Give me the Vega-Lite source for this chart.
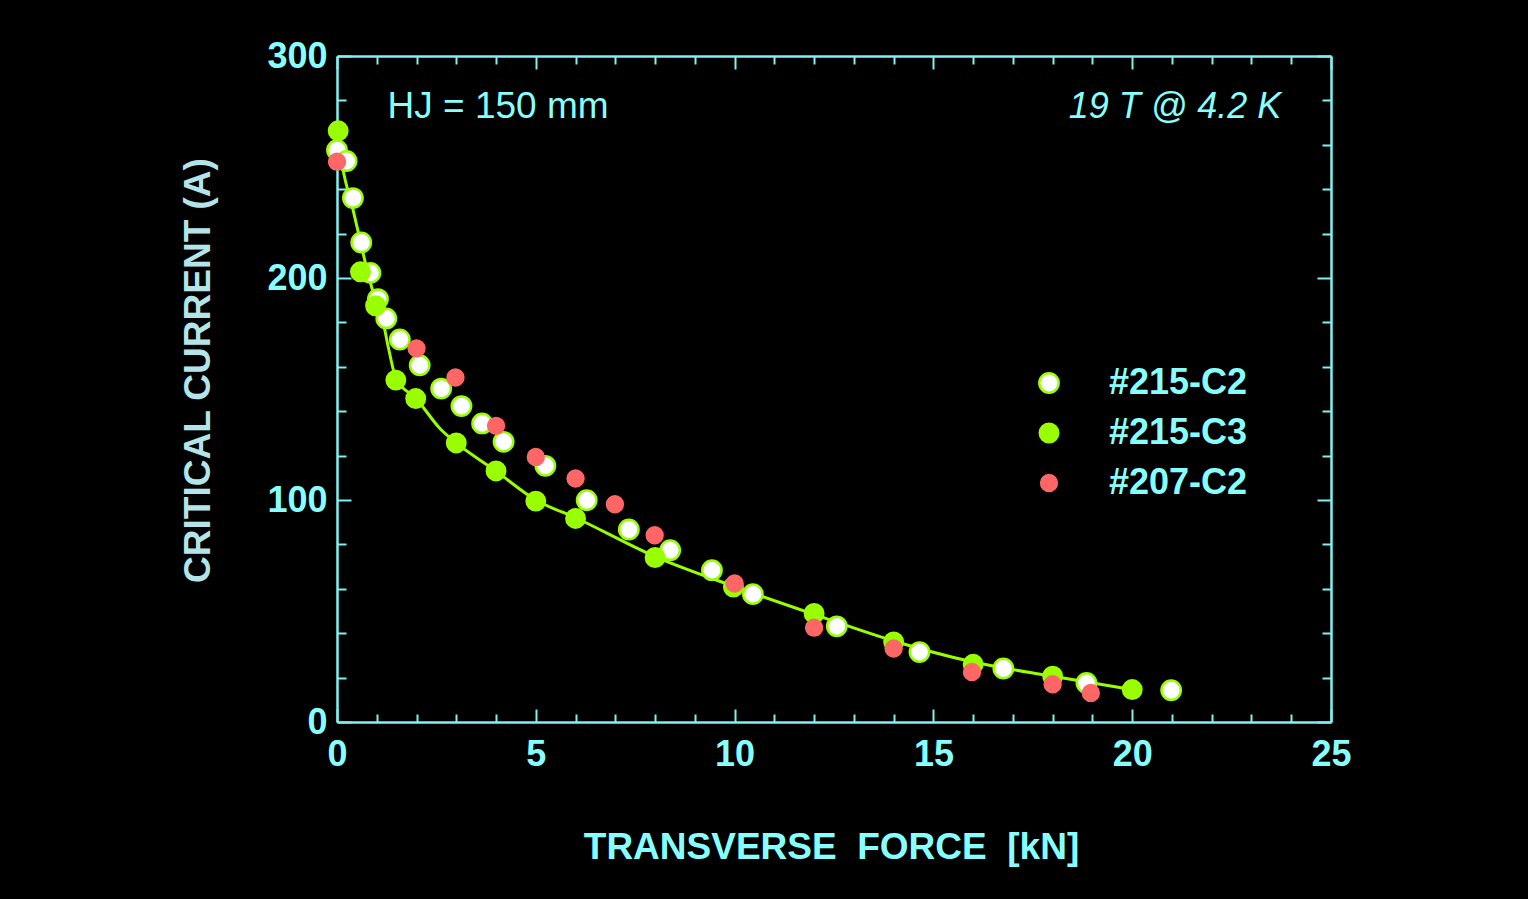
{
  "$schema": "https://vega.github.io/schema/vega-lite/v6.json",
  "width": 994,
  "height": 666,
  "autosize": "none",
  "padding": {"left": 337, "top": 56, "right": 197, "bottom": 177},
  "background": "#000000",
  "config": {"view": {"stroke": null}, "font": "Liberation Sans"},
  "datasets": {
    "curve": [
      {"f": 0, "ic": 266}, {"f": 0.15, "ic": 249}, {"f": 0.4, "ic": 231}, {"f": 0.62, "ic": 214},
      {"f": 0.78, "ic": 202}, {"f": 0.97, "ic": 190}, {"f": 1.15, "ic": 181}, {"f": 1.3, "ic": 168},
      {"f": 1.48, "ic": 155}, {"f": 2.0, "ic": 145.5}, {"f": 2.6, "ic": 132}, {"f": 3.0, "ic": 125.7},
      {"f": 4, "ic": 113}, {"f": 5, "ic": 100}, {"f": 6, "ic": 92}, {"f": 8, "ic": 74.5},
      {"f": 10, "ic": 61}, {"f": 12, "ic": 48.5}, {"f": 14, "ic": 36.5}, {"f": 16, "ic": 27},
      {"f": 18, "ic": 20.6}, {"f": 20, "ic": 14.6}
    ],
    "points": [
      {"series": "#215-C2", "f": 0.0, "ic": 257.6},
      {"series": "#215-C2", "f": 0.24, "ic": 252.7},
      {"series": "#215-C2", "f": 0.4, "ic": 236},
      {"series": "#215-C2", "f": 0.61, "ic": 216},
      {"series": "#215-C2", "f": 0.84, "ic": 202.3},
      {"series": "#215-C2", "f": 1.03, "ic": 190.5},
      {"series": "#215-C2", "f": 1.24, "ic": 181.8},
      {"series": "#215-C2", "f": 1.58, "ic": 172.3},
      {"series": "#215-C2", "f": 2.08, "ic": 160.7},
      {"series": "#215-C2", "f": 2.62, "ic": 150.2},
      {"series": "#215-C2", "f": 3.13, "ic": 142.3},
      {"series": "#215-C2", "f": 3.65, "ic": 134.5},
      {"series": "#215-C2", "f": 4.19, "ic": 126.2},
      {"series": "#215-C2", "f": 5.24, "ic": 115.4},
      {"series": "#215-C2", "f": 6.28, "ic": 99.9},
      {"series": "#215-C2", "f": 7.34, "ic": 86.7},
      {"series": "#215-C2", "f": 8.38, "ic": 77.4},
      {"series": "#215-C2", "f": 9.43, "ic": 68.4},
      {"series": "#215-C2", "f": 10.46, "ic": 57.6},
      {"series": "#215-C2", "f": 12.57, "ic": 43.1},
      {"series": "#215-C2", "f": 14.65, "ic": 31.5},
      {"series": "#215-C2", "f": 16.76, "ic": 24.1},
      {"series": "#215-C2", "f": 18.85, "ic": 17.6},
      {"series": "#215-C2", "f": 20.98, "ic": 14.3},
      {"series": "#215-C3", "f": 0.03, "ic": 266.3},
      {"series": "#215-C3", "f": 0.59, "ic": 202.8},
      {"series": "#215-C3", "f": 0.97, "ic": 187.5},
      {"series": "#215-C3", "f": 1.48, "ic": 154},
      {"series": "#215-C3", "f": 1.98, "ic": 145.7},
      {"series": "#215-C3", "f": 3.0, "ic": 125.7},
      {"series": "#215-C3", "f": 4.0, "ic": 113.1},
      {"series": "#215-C3", "f": 5.0, "ic": 99.5},
      {"series": "#215-C3", "f": 6.0, "ic": 91.7},
      {"series": "#215-C3", "f": 8.0, "ic": 74.1},
      {"series": "#215-C3", "f": 9.97, "ic": 60.8},
      {"series": "#215-C3", "f": 12.0, "ic": 48.9},
      {"series": "#215-C3", "f": 14.0, "ic": 36.1},
      {"series": "#215-C3", "f": 16.0, "ic": 26},
      {"series": "#215-C3", "f": 18.0, "ic": 20.6},
      {"series": "#215-C3", "f": 20.0, "ic": 14.6},
      {"series": "#207-C2", "f": 0.0, "ic": 252.4},
      {"series": "#207-C2", "f": 2.0, "ic": 168.3},
      {"series": "#207-C2", "f": 2.98, "ic": 155.2},
      {"series": "#207-C2", "f": 4.0, "ic": 133.4},
      {"series": "#207-C2", "f": 5.0, "ic": 119.4},
      {"series": "#207-C2", "f": 6.0, "ic": 109.7},
      {"series": "#207-C2", "f": 6.99, "ic": 98.1},
      {"series": "#207-C2", "f": 7.99, "ic": 84.1},
      {"series": "#207-C2", "f": 10.0, "ic": 62.4},
      {"series": "#207-C2", "f": 12.0, "ic": 42.5},
      {"series": "#207-C2", "f": 14.0, "ic": 33.1},
      {"series": "#207-C2", "f": 15.97, "ic": 22.5},
      {"series": "#207-C2", "f": 18.0, "ic": 17.0},
      {"series": "#207-C2", "f": 18.96, "ic": 13.1}
    ],
    "notes": [
      {"label": "HJ = 150 mm", "f": 1.27, "ic": 277}
    ],
    "notes2": [
      {"label": "19 T @ 4.2 K", "f": 23.75, "ic": 277}
    ]
  },
  "layer": [
    {
      "data": {"name": "curve"},
      "mark": {"type": "line", "color": "#99ff00", "strokeWidth": 3, "interpolate": "monotone"},
      "encoding": {
        "x": {
          "field": "f", "type": "quantitative",
          "scale": {"domain": [0, 25], "nice": false},
          "axis": {
            "orient": "bottom",
            "values": [0,1,2,3,4,5,6,7,8,9,10,11,12,13,14,15,16,17,18,19,20,21,22,23,24,25],
            "labelExpr": "datum.value % 5 == 0 ? datum.label : ''",
            "tickSize": {"condition": {"test": "datum.value % 5 == 0", "value": -13}, "value": -8},
            "tickWidth": 2, "tickColor": "#80f0f0",
            "domainColor": "#80f0f0", "domainWidth": 2.5,
            "grid": false,
            "labelFont": "Liberation Sans", "labelFontSize": 36, "labelFontWeight": "bold",
            "labelColor": "#88ffff", "labelPadding": 28, "labelFlush": false, "labelOverlap": false,
            "title": "TRANSVERSE\u00a0\u00a0FORCE\u00a0\u00a0[kN]",
            "titleFont": "Liberation Sans", "titleFontSize": 37, "titleFontWeight": "bold",
            "titleColor": "#88ffff", "titlePadding": 52, "titleX": 494
          }
        },
        "y": {
          "field": "ic", "type": "quantitative",
          "scale": {"domain": [0, 300], "nice": false},
          "axis": {
            "orient": "left",
            "values": [0,20,40,60,80,100,120,140,160,180,200,220,240,260,280,300],
            "labelExpr": "datum.value % 100 == 0 ? datum.label : ''",
            "tickSize": {"condition": {"test": "datum.value % 100 == 0", "value": -14}, "value": -9},
            "tickWidth": 2, "tickColor": "#80f0f0",
            "domainColor": "#80f0f0", "domainWidth": 2.5,
            "grid": false,
            "labelFont": "Liberation Sans", "labelFontSize": 36, "labelFontWeight": "bold",
            "labelColor": "#88ffff", "labelPadding": 24, "labelFlush": false, "labelOverlap": false,
            "title": "CRITICAL CURRENT (A)",
            "titleFont": "Liberation Sans", "titleFontSize": 37, "titleFontWeight": "bold",
            "titleColor": "#b4e4e8", "titleX": -139, "titleY": 314, "titleBaseline": "middle", "titleAngle": -90
          }
        }
      }
    },
    {
      "data": {"name": "points"},
      "mark": {"type": "point", "filled": true, "strokeWidth": 2.5, "opacity": 1, "size": 340},
      "encoding": {
        "x": {
          "field": "f", "type": "quantitative",
          "axis": {
            "orient": "top",
            "values": [0,1,2,3,4,5,6,7,8,9,10,11,12,13,14,15,16,17,18,19,20,21,22,23,24,25],
            "labels": false, "title": null,
            "tickSize": {"condition": {"test": "datum.value % 5 == 0", "value": -13}, "value": -8},
            "tickWidth": 2, "tickColor": "#80f0f0",
            "domainColor": "#80f0f0", "domainWidth": 2.5, "grid": false
          }
        },
        "y": {
          "field": "ic", "type": "quantitative",
          "axis": {
            "orient": "right",
            "values": [0,20,40,60,80,100,120,140,160,180,200,220,240,260,280,300],
            "labels": false, "title": null,
            "tickSize": {"condition": {"test": "datum.value % 100 == 0", "value": -14}, "value": -9},
            "tickWidth": 2, "tickColor": "#80f0f0",
            "domainColor": "#80f0f0", "domainWidth": 2.5, "grid": false
          }
        },
        "fill": {
          "field": "series", "type": "nominal",
          "scale": {"domain": ["#215-C2", "#215-C3", "#207-C2"], "range": ["#ffffff", "#99ff00", "#ff6666"]},
          "legend": {
            "title": null, "orient": "none", "legendX": 694, "legendY": 309,
            "padding": 0, "labelFont": "Liberation Sans", "labelFontSize": 36, "labelFontWeight": "bold",
            "labelColor": "#88ffff", "labelOffset": 42, "rowPadding": 14, "symbolStrokeWidth": 2.5,
            "symbolOpacity": 1, "symbolSize": 340
          }
        },
        "stroke": {
          "field": "series", "type": "nominal",
          "scale": {"domain": ["#215-C2", "#215-C3", "#207-C2"], "range": ["#99ff00", "#99ff00", "#ff6666"]}
        },
        "shape": {
          "field": "series", "type": "nominal",
          "scale": {
            "domain": ["#215-C2", "#215-C3", "#207-C2"],
            "range": [
              "M1.05,0A1.05,1.05 0 1,1 -1.05,0A1.05,1.05 0 1,1 1.05,0Z",
              "circle",
              "M0.86,0A0.86,0.86 0 1,1 -0.86,0A0.86,0.86 0 1,1 0.86,0Z"
            ]
          }
        }
      }
    },
    {
      "data": {"name": "notes"},
      "mark": {"type": "text", "align": "left", "baseline": "middle", "font": "Liberation Sans", "fontSize": 37, "color": "#88ffff"},
      "encoding": {
        "x": {"field": "f", "type": "quantitative", "axis": null},
        "y": {"field": "ic", "type": "quantitative", "axis": null},
        "text": {"field": "label"}
      }
    },
    {
      "data": {"name": "notes2"},
      "mark": {"type": "text", "align": "right", "baseline": "middle", "font": "Liberation Sans", "fontSize": 36, "fontStyle": "italic", "color": "#88ffff"},
      "encoding": {
        "x": {"field": "f", "type": "quantitative", "axis": null},
        "y": {"field": "ic", "type": "quantitative", "axis": null},
        "text": {"field": "label"}
      }
    }
  ],
  "resolve": {"axis": {"x": "independent", "y": "independent"}}
}
